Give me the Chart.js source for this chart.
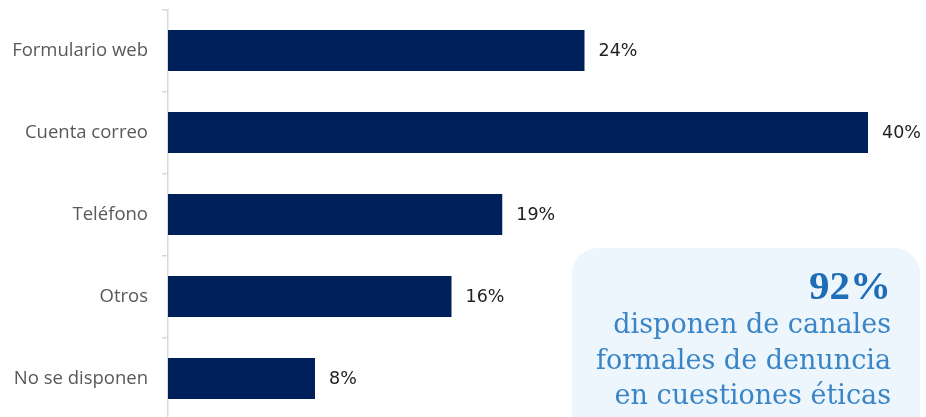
<!DOCTYPE html>
<html>
<head>
<meta charset="utf-8">
<script src="https://cdn.jsdelivr.net/npm/chart.js@4"></script>
<style>
  html, body { margin: 0; padding: 0; background: #fff; overflow: hidden; }
  #wrap { width: 926px; height: 422px; }
</style>
</head>
<body>
<div id="wrap"><canvas id="myChart"></canvas></div>
<script>
const categories = ['Formulario web', 'Cuenta correo', 'Teléfono', 'Otros', 'No se disponen'];
const values = [23.8, 40, 19.1, 16.2, 8.4];
const valueLabels = ['24%', '40%', '19%', '16%', '8%'];
const calloutBig = '92%';
const calloutLines = ['disponen de canales', 'formales de denuncia', 'en cuestiones éticas'];

// value labels at the end of each bar
const barLabels = {
  id: 'barLabels',
  afterDatasetsDraw(chart) {
    const c = chart.ctx;
    const meta = chart.getDatasetMeta(0);
    c.save();
    c.font = '17.5px "DejaVu Sans"';
    c.fillStyle = '#222222';
    c.textBaseline = 'middle';
    c.textAlign = 'left';
    meta.data.forEach((bar, i) => {
      c.fillText(valueLabels[i], bar.x + 14, bar.y + 1);
    });
    c.restore();
  }
};

// the light blue box at bottom right
const callout = {
  id: 'callout',
  afterDraw(chart) {
    const c = chart.ctx;
    c.save();
    c.fillStyle = '#edf6fd';
    c.beginPath();
    c.roundRect(572, 248, 348, 200, 26);
    c.fill();
    c.textAlign = 'right';
    c.textBaseline = 'alphabetic';
    c.fillStyle = '#1f6db6';
    c.font = 'bold 41px "Liberation Serif"';
    c.fillText(calloutBig, 891, 299);
    c.fillStyle = '#3a85c6';
    c.font = '27px "DejaVu Serif"';
    calloutLines.forEach((t, i) => {
      c.fillText(t, 891, 333 + i * 35.5);
    });
    c.restore();
  }
};

const ctx = document.querySelector('#myChart').getContext('2d');

const myChart = new Chart(ctx, {
  type: 'bar',
  data: {
    labels: categories,
    datasets: [{
      data: values,
      backgroundColor: '#00205b',
      borderWidth: 0,
      barPercentage: 1,
      categoryPercentage: 0.5,
    }]
  },
  plugins: [barLabels, callout],
  options: {
    indexAxis: 'y',
    responsive: true,
    maintainAspectRatio: false,
    animation: false,
    layout: {
      padding: { top: 9.5, right: 58, bottom: 2.5, left: 0 }
    },
    plugins: {
      legend: { display: false },
      tooltip: { enabled: false }
    },
    scales: {
      x: {
        display: false,
        min: 0,
        max: 40,
      },
      y: {
        afterFit(scale) {
          scale.width = 168;
          scale.paddingTop = 0;
          scale.paddingBottom = 0;
        },
        border: { display: true, color: '#d9d9d9', width: 1.5 },
        grid: {
          display: true,
          drawOnChartArea: false,
          drawTicks: true,
          tickLength: 6,
          color: '#d9d9d9',
          lineWidth: 1.5,
          offset: true,
        },
        ticks: {
          color: '#595959',
          padding: 14,
          font: { family: 'Open Sans', size: 18.5 }
        }
      }
    }
  }
});
</script>
</body>
</html>
